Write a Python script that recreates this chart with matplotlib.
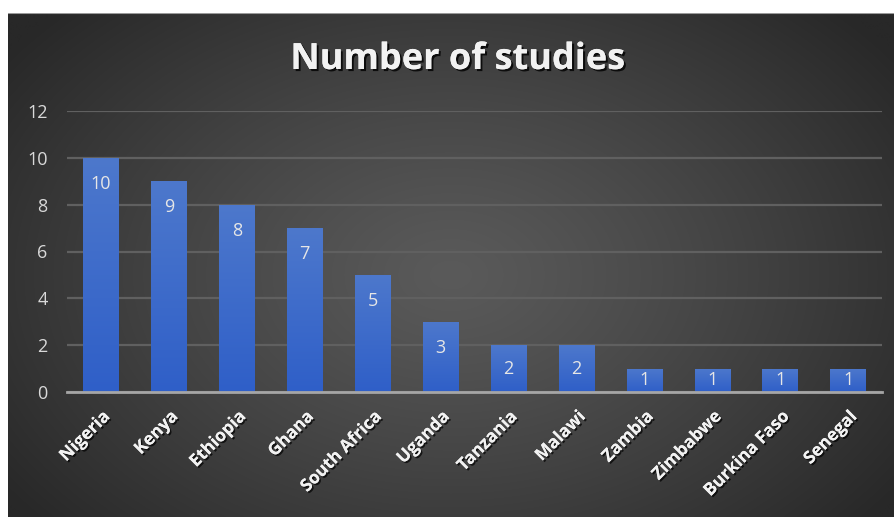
import numpy as np
import matplotlib
matplotlib.use("Agg")
import matplotlib.pyplot as plt
import matplotlib.patheffects as pe

# study counts per country
countries = ["Nigeria", "Kenya", "Ethiopia", "Ghana", "South Africa", "Uganda",
             "Tanzania", "Malawi", "Zambia", "Zimbabwe", "Burkina Faso", "Senegal"]
studies = [10, 9, 8, 7, 5, 3, 2, 2, 1, 1, 1, 1]
y_ticks = [0, 2, 4, 6, 8, 10, 12]

W, H = 894, 517
fig = plt.figure(figsize=(W / 100, H / 100), dpi=100, facecolor="white")

# dark radial background panel
bg = fig.add_axes([8 / W, 0, 1 - 8 / W, 1 - 13 / H])
yy, xx = np.mgrid[0:1:300j, 0:1:500j]
r = np.sqrt(((xx - 0.5) / 0.62) ** 2 + ((yy - 0.52) / 0.75) ** 2)
r = np.clip(r, 0, 1)
c0 = np.array([0x5a, 0x5a, 0x5a]) / 255
c1 = np.array([0x28, 0x28, 0x28]) / 255
img = c0[None, None, :] * (1 - r[..., None] ** 1.2) + c1[None, None, :] * r[..., None] ** 1.2
bg.imshow(img, aspect="auto", extent=[0, 1, 0, 1], interpolation="bilinear")
bg.axhline(1, color="#9a9a9a", lw=1.5)
bg.set_axis_off()

ax = fig.add_axes([67 / W, 1 - 392 / H, (882 - 67) / W, (392 - 111) / H])
ax.set_facecolor("none")

x = np.arange(len(countries))
bars = ax.bar(x, studies, width=0.52, color="#4472c4", zorder=3)

# vertical blue gradient inside each bar
grad = np.linspace(0, 1, 256)[:, None]
blue_top = np.array([0x4d, 0x78, 0xcc]) / 255
blue_bot = np.array([0x2f, 0x5f, 0xc8]) / 255
gimg = blue_bot[None, None, :] * (1 - grad[..., None]) + blue_top[None, None, :] * grad[..., None]
for b in bars:
    bx, by = b.get_x(), b.get_y()
    im = ax.imshow(gimg, aspect="auto", origin="lower", zorder=4,
                   extent=[bx, bx + b.get_width(), by, by + b.get_height()])
    im.set_clip_path(b)

ax.set_xlim(-0.5, len(countries) - 0.5)
ax.set_ylim(0, 12)
ax.set_yticks(y_ticks)
ax.yaxis.grid(True, color="#606060", lw=1.6, zorder=1)
ax.set_axisbelow(True)
for s in ["top", "right", "left"]:
    ax.spines[s].set_visible(False)
ax.spines["bottom"].set_color("#a6a6a6")
ax.spines["bottom"].set_linewidth(2)
ax.spines["bottom"].set_zorder(5)
ax.tick_params(axis="both", length=0)
ax.tick_params(axis="y", colors="#d9d9d9", labelsize=13, pad=14)
for t in ax.get_yticklabels():
    t.set_fontfamily("Open Sans")

shadow = [pe.withSimplePatchShadow(offset=(1.2, -1.2), shadow_rgbFace="black", alpha=0.7),
          pe.Normal()]

ax.set_xticks(x)
ax.set_xticklabels(countries, rotation=45, ha="right", va="top",
                   rotation_mode="anchor", fontsize=12.5, fontweight="bold",
                   color="#f2f2f2", family="Open Sans")
ax.tick_params(axis="x", pad=11)
for t in ax.get_xticklabels():
    t.set_path_effects(shadow)

# value labels just inside the bar tops
off = 26 / 23.4
for xi, v in zip(x, studies):
    ax.text(xi, max(v - off, v / 2), str(v), ha="center", va="center",
            color="#e6e6e6", fontsize=13, family="Open Sans", zorder=6)

fig.text(458 / W, 1 - 60 / H, "Number of studies", ha="center", va="center",
         fontsize=26, fontweight="bold", color="#f2f2f2", family="Open Sans",
         path_effects=[pe.withSimplePatchShadow(offset=(1.5, -1.5),
                                                shadow_rgbFace="black", alpha=0.8),
                       pe.Normal()])

fig.savefig("out.png", dpi=100, facecolor="white")
